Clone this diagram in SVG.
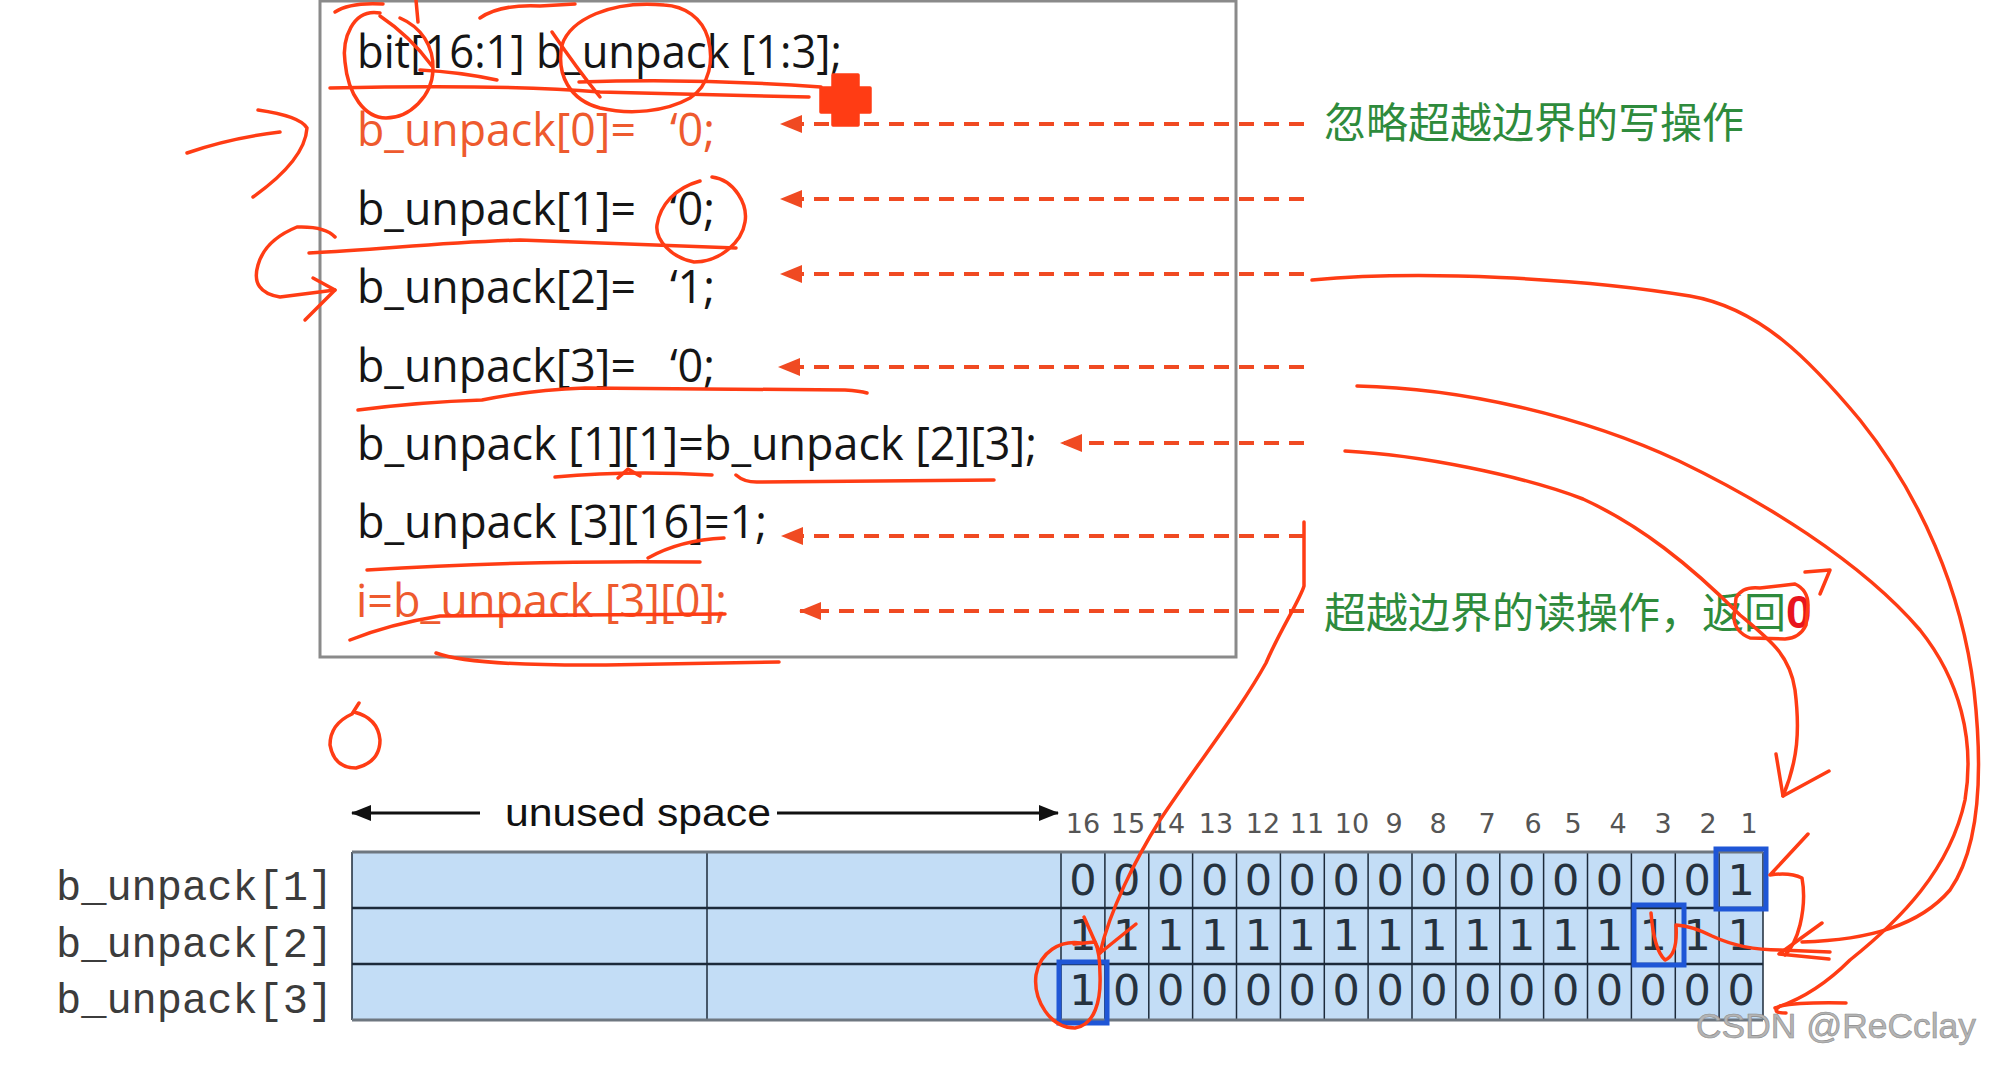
<svg xmlns="http://www.w3.org/2000/svg" width="2000" height="1066" viewBox="0 0 2000 1066">
<defs>
<style>
.code{font-family:"Open Sans","Noto Sans",sans-serif;font-size:45px;fill:#151515}
.red{fill:#ee5a2e}
.dash{stroke:#f04a22;stroke-width:4;stroke-dasharray:15 10;fill:none}
.ann{stroke:#ff3c14;stroke-width:3.5;fill:none;stroke-linecap:round;stroke-linejoin:round}
.cn{font-family:"Noto Sans CJK SC","Noto Sans",sans-serif;font-size:42px;fill:#2e8b3c}
.dig{font-family:"DejaVu Sans",sans-serif;font-size:43px;fill:#26323e;text-anchor:middle}
.hdr{font-family:"DejaVu Sans",sans-serif;font-size:27px;fill:#555;text-anchor:middle}
.lbl{font-family:"Liberation Mono","Courier New",monospace;font-size:42px;fill:#3c3c3c}
.hl{fill:none;stroke:#1f56d6;stroke-width:5}
.vl{stroke:#1c2a3a;stroke-width:1.5}
</style>
<marker id="ah" markerUnits="userSpaceOnUse" markerWidth="22" markerHeight="18" refX="21" refY="9" orient="auto">
<path d="M0,0 L22,9 L0,18 Z" fill="#f04a22"/>
</marker>
<marker id="bh" markerUnits="userSpaceOnUse" markerWidth="20" markerHeight="16" refX="19" refY="8" orient="auto">
<path d="M0,0 L20,8 L0,16 Z" fill="#111"/>
</marker>
</defs>
<rect width="2000" height="1066" fill="#fff"/>

<g id="code-box">
<rect x="320" y="1" width="916" height="656" fill="#fff" stroke="#8a8a8a" stroke-width="3"/>
<text class="code" x="357" y="68" textLength="485" lengthAdjust="spacingAndGlyphs">bit[16:1] b_unpack [1:3];</text>
<text class="code red" x="357" y="146" textLength="279" lengthAdjust="spacingAndGlyphs">b_unpack[0]=</text>
<text class="code red" x="670" y="146">‘0;</text>
<text class="code" x="357" y="225" textLength="279" lengthAdjust="spacingAndGlyphs">b_unpack[1]=</text>
<text class="code" x="670" y="225">‘0;</text>
<text class="code" x="357" y="303" textLength="279" lengthAdjust="spacingAndGlyphs">b_unpack[2]=</text>
<text class="code" x="670" y="303">‘1;</text>
<text class="code" x="357" y="382" textLength="279" lengthAdjust="spacingAndGlyphs">b_unpack[3]=</text>
<text class="code" x="670" y="382">‘0;</text>
<text class="code" x="357" y="460" textLength="680" lengthAdjust="spacingAndGlyphs">b_unpack [1][1]=b_unpack [2][3];</text>
<text class="code" x="357" y="538" textLength="410" lengthAdjust="spacingAndGlyphs">b_unpack [3][16]=1;</text>
<text class="code red" x="356" y="617" textLength="371" lengthAdjust="spacingAndGlyphs">i=b_unpack [3][0];</text>
</g>

<g id="note-write">
<text class="cn" x="1324" y="138">忽略超越边界的写操作</text>
</g>
<g id="note-read">
<text class="cn" x="1324" y="628">超越边界的读操作，返回<tspan font-family="Liberation Sans,sans-serif" font-size="46" font-weight="bold" fill="#e8141e" stroke="#fff" stroke-width="2" paint-order="stroke">0</tspan></text>
</g>

<g id="connectors">
<line class="dash" x1="1304" y1="124" x2="781" y2="124" marker-end="url(#ah)"/>
<line class="dash" x1="1304" y1="199" x2="781" y2="199" marker-end="url(#ah)"/>
<line class="dash" x1="1304" y1="274" x2="781" y2="274" marker-end="url(#ah)"/>
<line class="dash" x1="1304" y1="367" x2="779" y2="367" marker-end="url(#ah)"/>
<line class="dash" x1="1304" y1="443" x2="1061" y2="443" marker-end="url(#ah)"/>
<line class="dash" x1="1304" y1="536" x2="782" y2="536" marker-end="url(#ah)"/>
<line class="dash" x1="1304" y1="611" x2="800" y2="611" marker-end="url(#ah)"/>
</g>

<g id="unused-space">
<line x1="480" y1="813" x2="352" y2="813" stroke="#111" stroke-width="3" marker-end="url(#bh)"/>
<line x1="777" y1="813" x2="1058" y2="813" stroke="#111" stroke-width="3" marker-end="url(#bh)"/>
<text x="505" y="826" font-family="Liberation Sans,Arial,sans-serif" font-size="38" fill="#111" textLength="266" lengthAdjust="spacingAndGlyphs">unused space</text>
</g>

<g id="bit-header" class="hdr">
<text x="1083" y="833">16</text>
<text x="1128" y="833">15</text>
<text x="1168" y="833">14</text>
<text x="1216" y="833">13</text>
<text x="1263" y="833">12</text>
<text x="1307" y="833">11</text>
<text x="1352" y="833">10</text>
<text x="1394" y="833">9</text>
<text x="1438" y="833">8</text>
<text x="1487" y="833">7</text>
<text x="1533" y="833">6</text>
<text x="1573" y="833">5</text>
<text x="1618" y="833">4</text>
<text x="1663" y="833">3</text>
<text x="1708" y="833">2</text>
<text x="1749" y="833">1</text>
</g>

<g id="grid">
<rect x="352" y="852" width="1411" height="168" fill="#c3ddf6"/>
<g class="vl">
<line x1="352" y1="852" x2="352" y2="1020"/>
<line x1="707" y1="852" x2="707" y2="1020"/>
<line x1="1061" y1="852" x2="1061" y2="1020"/>
<line x1="1104.9" y1="852" x2="1104.9" y2="1020"/>
<line x1="1148.8" y1="852" x2="1148.8" y2="1020"/>
<line x1="1192.6" y1="852" x2="1192.6" y2="1020"/>
<line x1="1236.5" y1="852" x2="1236.5" y2="1020"/>
<line x1="1280.4" y1="852" x2="1280.4" y2="1020"/>
<line x1="1324.3" y1="852" x2="1324.3" y2="1020"/>
<line x1="1368.1" y1="852" x2="1368.1" y2="1020"/>
<line x1="1412" y1="852" x2="1412" y2="1020"/>
<line x1="1455.9" y1="852" x2="1455.9" y2="1020"/>
<line x1="1499.8" y1="852" x2="1499.8" y2="1020"/>
<line x1="1543.6" y1="852" x2="1543.6" y2="1020"/>
<line x1="1587.5" y1="852" x2="1587.5" y2="1020"/>
<line x1="1631.4" y1="852" x2="1631.4" y2="1020"/>
<line x1="1675.3" y1="852" x2="1675.3" y2="1020"/>
<line x1="1719.1" y1="852" x2="1719.1" y2="1020"/>
<line x1="1763" y1="852" x2="1763" y2="1020"/>
</g>
<line x1="352" y1="852" x2="1763" y2="852" stroke="#6e7780" stroke-width="3"/>
<line x1="352" y1="908" x2="1763" y2="908" stroke="#1c2a3a" stroke-width="2.5"/>
<line x1="352" y1="964" x2="1763" y2="964" stroke="#1c2a3a" stroke-width="2.5"/>
<line x1="352" y1="1020" x2="1763" y2="1020" stroke="#6e7780" stroke-width="3"/>
</g>

<g id="row-1">
<text class="lbl" x="56" y="900">b_unpack[1]</text>
<text class="dig" x="1083 1126.8 1170.7 1214.6 1258.4 1302.3 1346.2 1390.1 1433.9 1477.8 1521.7 1565.6 1609.4 1653.3 1697.2 1741.1" y="895">0000000000000001</text>
<rect class="hl" x="1716" y="849" width="50" height="60"/>
</g>
<g id="row-2">
<text class="lbl" x="56" y="957">b_unpack[2]</text>
<text class="dig" x="1083 1126.8 1170.7 1214.6 1258.4 1302.3 1346.2 1390.1 1433.9 1477.8 1521.7 1565.6 1609.4 1653.3 1697.2 1741.1" y="950">1111111111111111</text>
<rect class="hl" x="1634" y="905" width="50" height="60"/>
</g>
<g id="row-3">
<text class="lbl" x="56" y="1013">b_unpack[3]</text>
<text class="dig" x="1083 1126.8 1170.7 1214.6 1258.4 1302.3 1346.2 1390.1 1433.9 1477.8 1521.7 1565.6 1609.4 1653.3 1697.2 1741.1" y="1005">1000000000000000</text>
<rect class="hl" x="1059" y="962" width="48" height="61"/>
</g>

<g id="annotations" class="ann">
<path d="M335,12 Q350,2 383,4"/>
<path d="M416,0 L418,22"/>
<path d="M480,18 Q500,4 540,6 L575,4"/>
<path d="M380,13 C352,8 342,40 345,62 C348,95 365,118 386,118 C410,118 432,96 433,70 C434,46 421,27 400,18"/>
<path d="M380,16 Q410,36 432,66"/>
<path d="M420,70 Q460,72 497,80"/>
<path d="M664,5 C610,0 570,20 562,45 C556,75 570,100 600,108 C630,115 665,112 690,98 C710,85 714,60 708,38 C702,18 685,6 664,5"/>
<path d="M552,32 Q578,70 600,97"/>
<path d="M330,88 Q500,84 600,92 L809,97"/>
<path d="M579,82 Q700,78 821,87"/>
<path d="M833,75 H858 V88 H870 V112 H858 V125 H833 V112 H821 V88 H833 Z" fill="#ff3c14"/>
<path d="M187,153 Q230,138 280,132"/>
<path d="M258,110 Q300,116 307,128 Q305,160 253,197"/>
<path d="M712,177 C735,180 748,205 745,222 C742,242 720,262 694,262 C672,258 655,240 657,225 C660,205 675,188 700,181"/>
<path d="M309,253 C380,250 430,243 520,240 L736,248"/>
<path d="M335,237 Q325,226 297,227 Q265,240 258,265 Q250,292 280,297 L335,290"/>
<path d="M313,278 L335,290 L305,320"/>
<path d="M358,410 Q420,402 482,400 Q530,390 585,388 L845,390 Q860,391 867,393"/>
<path d="M555,477 Q630,470 712,475"/>
<path d="M618,478 L628,469 L640,476"/>
<path d="M736,475 Q745,483 760,482 L994,480"/>
<path d="M367,570 Q520,560 700,562"/>
<path d="M648,558 Q680,540 724,538"/>
<path d="M350,640 Q390,624 440,616 L725,614"/>
<path d="M436,653 Q470,666 606,665 L779,662"/>
<path d="M359,703 L352,714 Q330,724 330,745 Q334,768 356,768 Q380,762 380,740 Q378,718 354,712"/>
<path d="M1312,280 C1420,270 1580,278 1690,296 C1760,308 1810,360 1860,420 C1920,495 1962,590 1974,690 C1984,780 1978,850 1950,890 C1920,925 1870,940 1802,942"/>
<path d="M1822,923 L1779,954 L1829,959"/>
<path d="M1357,386 C1460,388 1580,415 1679,461 C1760,500 1860,560 1920,630 C1960,680 1975,740 1965,800 C1950,870 1900,920 1850,960 C1825,985 1800,1000 1775,1008"/>
<path d="M1846,1003 Q1800,1002 1780,1006 Q1770,1013 1786,1013"/>
<path d="M1345,451 C1420,455 1520,475 1583,499 C1640,525 1690,565 1740,615 C1770,640 1790,655 1795,690 C1800,730 1798,760 1783,796"/>
<path d="M1776,754 L1783,796 L1829,771"/>
<path d="M1760,588 L1795,584 Q1808,590 1808,605 L1806,625 Q1800,638 1785,639 L1750,638 Q1735,632 1734,618 L1736,598 Q1742,586 1760,588 Z"/>
<path d="M1805,572 L1830,570 L1820,594"/>
<path d="M1808,834 L1770,875 Q1790,872 1802,878 Q1806,900 1800,925 Q1795,945 1785,955"/>
<path d="M1651,913 Q1654,950 1665,960 Q1678,955 1676,925 Q1692,926 1712,936 Q1742,950 1780,950 L1830,952"/>
<path d="M1304,522 L1304,586 C1300,600 1280,630 1266,663 C1240,710 1200,760 1160,820 C1135,860 1110,910 1100,953"/>
<path d="M1084,917 L1100,953 L1136,924"/>
<path d="M1081,943 C1060,940 1040,952 1036,975 C1033,1000 1050,1028 1075,1028 C1095,1025 1101,1000 1100,975 C1100,958 1098,948 1095,942 L1074,944"/>
</g>

<text x="1696" y="1038" font-family="Liberation Sans,Arial,sans-serif" font-size="35" fill="#b4b4b4" stroke="#8c8c8c" stroke-width="0.6" textLength="280" lengthAdjust="spacingAndGlyphs">CSDN @ReCclay</text>
</svg>
